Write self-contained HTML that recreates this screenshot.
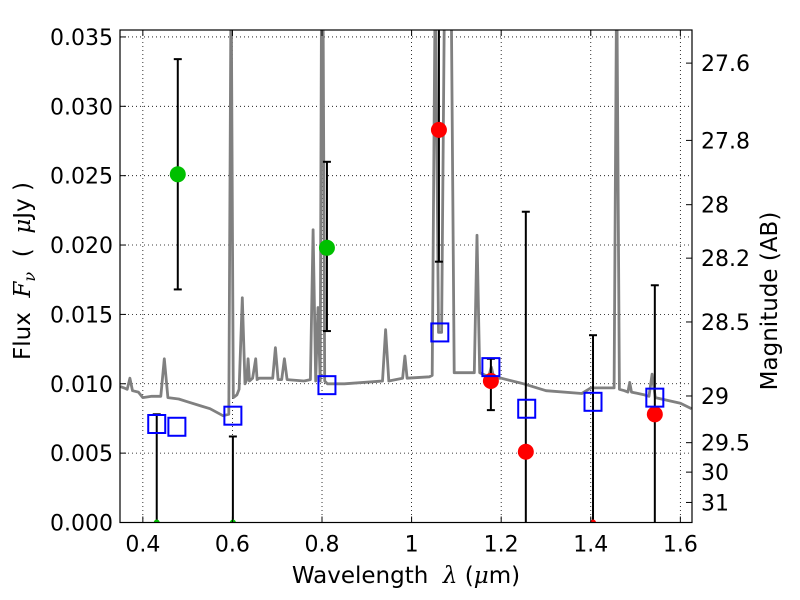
<!DOCTYPE html>
<html><head><meta charset="utf-8"><style>
body{margin:0;background:#fff;}
svg{display:block;font-family:"DejaVu Sans","Liberation Sans",sans-serif;}
</style></head><body>
<svg id="chart" width="800" height="600"></svg>
<script>
const xTicks=[0.4,0.6,0.8,1.0,1.2,1.4,1.6];
const xTickLabels=["0.4","0.6","0.8","1","1.2","1.4","1.6"];
const yTicks=[0,0.005,0.010,0.015,0.020,0.025,0.030,0.035];
const yTickLabels=["0.000","0.005","0.010","0.015","0.020","0.025","0.030","0.035"];
const magTicks=[27.6,27.8,28,28.2,28.5,29,29.5,30,31];
const magLabels=["27.6","27.8","28","28.2","28.5","29","29.5","30","31"];
const specLam=[0.35,0.358,0.365,0.371,0.377,0.39,0.40,0.42,0.44,0.448,0.456,0.48,0.50,0.53,0.55,0.579,0.592,0.597,0.602,0.61,0.615,0.622,0.628,0.632,0.635,0.638,0.645,0.652,0.655,0.66,0.69,0.696,0.702,0.71,0.716,0.722,0.76,0.774,0.780,0.786,0.791,0.796,0.799,0.802,0.806,0.812,0.85,0.935,0.942,0.949,0.98,0.985,0.99,1.04,1.046,1.053,1.06,1.067,1.074,1.081,1.088,1.095,1.14,1.146,1.152,1.172,1.178,1.184,1.2,1.25,1.3,1.38,1.40,1.44,1.452,1.458,1.464,1.475,1.483,1.487,1.491,1.52,1.53,1.537,1.544,1.6,1.625];
const specFlux=[0.0098,0.0097,0.0096,0.0104,0.0095,0.0094,0.0090,0.0091,0.0091,0.0118,0.0090,0.0089,0.0087,0.0084,0.0082,0.0077,0.0078,0.040,0.0090,0.0092,0.0096,0.0162,0.0100,0.0103,0.0118,0.0102,0.0104,0.0118,0.0103,0.0104,0.0104,0.0126,0.0103,0.0103,0.0118,0.0103,0.0102,0.0103,0.0211,0.0102,0.0155,0.0102,0.040,0.040,0.0102,0.0100,0.0100,0.0102,0.0139,0.0102,0.0104,0.0120,0.0104,0.0105,0.0106,0.040,0.0137,0.0137,0.040,0.040,0.040,0.0108,0.0108,0.0207,0.0108,0.0105,0.0112,0.0104,0.0104,0.0100,0.0095,0.0093,0.0097,0.0097,0.0097,0.040,0.0096,0.0095,0.0094,0.0101,0.0094,0.0092,0.0091,0.0107,0.0090,0.0086,0.0082];
const greenLam=[0.478,0.811,0.431,0.601];
const greenFlux=[0.0251,0.0198,0,0];
const greenLo=[0.0168,0.0138,0,0];
const greenHi=[0.0334,0.0260,0.0078,0.0062];
const redLam=[1.061,1.177,1.255,1.405,1.543];
const redFlux=[0.0283,0.0102,0.0051,0,0.0078];
const redLo=[0.0188,0.0081,0,0,0];
const redHi=[0.040,0.0118,0.0224,0.0135,0.0171];
const sqLam=[0.431,0.476,0.601,0.811,1.063,1.177,1.257,1.405,1.543];
const sqFlux=[0.0071,0.0069,0.0077,0.0099,0.0137,0.0112,0.0082,0.0087,0.0090];

const L=120,R=692,T=30,B=522.5,X0=0.349,X1=1.626,Y0=0,Y1=0.0355;
const sx=v=>L+(v-X0)/(X1-X0)*(R-L);
const sy=v=>B-(v-Y0)/(Y1-Y0)*(B-T);
const svg=document.getElementById('chart');
const NS="http://www.w3.org/2000/svg";
function mk(tag,attrs,parent){const e=document.createElementNS(NS,tag);for(const k in attrs)e.setAttribute(k,attrs[k]);(parent||svg).appendChild(e);return e;}
const defs=mk('defs',{});
const cp=mk('clipPath',{id:'clip'},defs);mk('rect',{x:L,y:T,width:R-L,height:B-T},cp);
const plot=mk('g',{'clip-path':'url(#clip)'});


xTicks.forEach(v=>{const g=mk('line',{x1:sx(v),x2:sx(v),y1:T,y2:B,stroke:'#000','stroke-width':0.8,'stroke-dasharray':'1,3'},plot);

});
yTicks.forEach(v=>{const g=mk('line',{x1:L,x2:R,y1:sy(v),y2:sy(v),stroke:'#000','stroke-width':0.8,'stroke-dasharray':'1,3'},plot);

});
let d='';specLam.forEach((l,i)=>{d+=(i?'L':'M')+sx(l).toFixed(1)+','+sy(specFlux[i]).toFixed(1);});
const sp=mk('path',{d:d,fill:'none',stroke:'#808080','stroke-width':2.8,'stroke-linejoin':'round'},plot);


function errbar(l,lo,hi){const x=sx(l);
const e=mk('line',{x1:x,x2:x,y1:sy(lo),y2:sy(hi),stroke:'#000','stroke-width':2},plot);


[lo,hi].forEach(v=>{if(v>0&&v<Y1){const c=mk('line',{x1:x-4,x2:x+4,y1:sy(v),y2:sy(v),stroke:'#000','stroke-width':2},plot);

}});}
greenLam.forEach((l,i)=>errbar(l,greenLo[i],greenHi[i]));
redLam.forEach((l,i)=>errbar(l,redLo[i],redHi[i]));
greenLam.forEach((l,i)=>{const c=mk('circle',{cx:sx(l),cy:sy(greenFlux[i]),r:greenFlux[i]>0?8:3,fill:'#00c000'},plot);

});
redLam.forEach((l,i)=>{const c=mk('circle',{cx:sx(l),cy:sy(redFlux[i]),r:redFlux[i]>0?8:3,fill:'#ff0000'},plot);

});
sqLam.forEach((l,i)=>{const s=mk('rect',{x:sx(l)-8.5,y:sy(sqFlux[i])-9,width:17,height:18,fill:'none',stroke:'#0000ff','stroke-width':2},plot);

});
const fr=mk('rect',{x:L,y:T,width:R-L,height:B-T,fill:'none',stroke:'#000','stroke-width':1.2});


xTicks.forEach((v,i)=>{const x=sx(v);
mk('line',{x1:x,x2:x,y1:B,y2:B-6,stroke:'#000'});mk('line',{x1:x,x2:x,y1:T,y2:T+6,stroke:'#000'});
const t=mk('text',{x:x,y:B+29,'text-anchor':'middle','font-size':22});t.textContent=xTickLabels[i];

});
yTicks.forEach((v,i)=>{const y=sy(v);
mk('line',{x1:L,x2:L+6,y1:y,y2:y,stroke:'#000'});
const t=mk('text',{x:L-7,y:y+8,'text-anchor':'end','font-size':22});t.textContent=yTickLabels[i];

});
magTicks.forEach((m,i)=>{const f=Math.pow(10,(23.9-m)/2.5);const y=sy(f);
mk('line',{x1:R,x2:R-6,y1:y,y2:y,stroke:'#000'});
const t=mk('text',{x:R+9,y:y+8,'font-size':22});t.textContent=magLabels[i];

});
const xl=mk('text',{x:406,y:583,'text-anchor':'middle','font-size':23});
xl.innerHTML='Wavelength&#160;&#160;<tspan font-style="italic" font-family="DejaVu Serif,serif">λ</tspan> (<tspan font-style="italic" font-family="DejaVu Serif,serif">μ</tspan>m)';


const yl=mk('text',{x:0,y:0,'text-anchor':'middle','font-size':23,transform:'translate(30,271) rotate(-90)'});
yl.innerHTML='Flux&#160;&#160;<tspan font-style="italic" font-family="DejaVu Serif,serif">F<tspan font-size="16" dy="5">ν</tspan></tspan><tspan dy="-5">&#160;&#160;(&#160;&#160;</tspan><tspan font-style="italic" font-family="DejaVu Serif,serif">μ</tspan>Jy )';


const rl=mk('text',{x:0,y:0,'text-anchor':'middle','font-size':23,transform:'translate(777,301) rotate(-90)'});
rl.textContent='Magnitude (AB)';


</script>
</body></html>
